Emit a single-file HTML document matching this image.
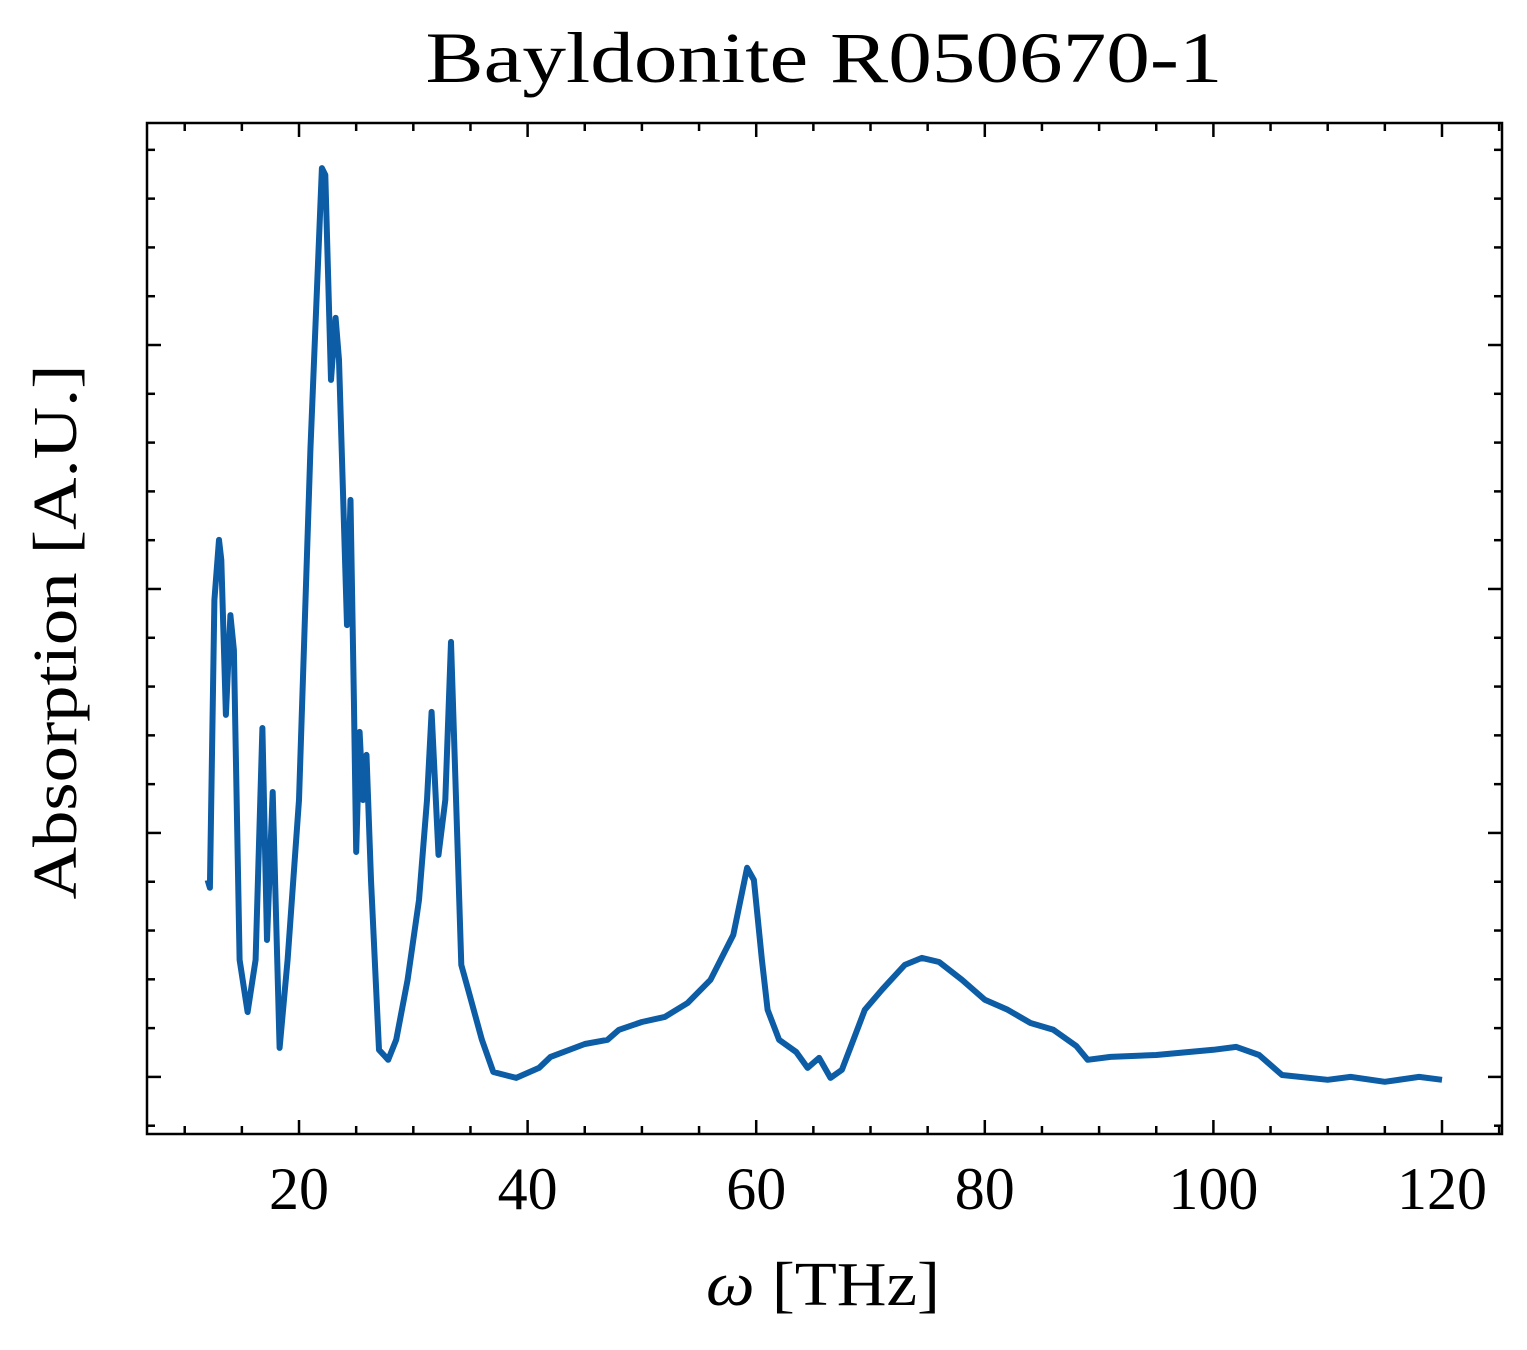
<!DOCTYPE html>
<html><head><meta charset="utf-8"><style>
body{margin:0;background:#fff;}
svg text{font-family:"Liberation Serif","DejaVu Serif",serif;fill:#000;}
</style></head><body>
<svg id="chart" width="1527" height="1345" viewBox="0 0 1527 1345">
<text x="824" y="82" text-anchor="middle" font-size="72" textLength="797" lengthAdjust="spacingAndGlyphs">Bayldonite R050670-1</text>
<g id="ticks"></g>
<path id="series" fill="none" stroke="#0C5DA5" stroke-width="6" stroke-linejoin="round"></path>
<rect x="147" y="123" width="1355" height="1011" fill="none" stroke="#000" stroke-width="2.5"/>
<text x="823" y="1305" text-anchor="middle" font-size="62" textLength="234" lengthAdjust="spacingAndGlyphs"><tspan font-style="italic">ω</tspan> [THz]</text>
<text transform="translate(76,632) rotate(-90)" text-anchor="middle" font-size="62" textLength="535" lengthAdjust="spacingAndGlyphs">Absorption [A.U.]</text>
</svg>
<script>
const freqs=[12.0,12.2,12.6,13.0,13.2,13.6,14.0,14.3,14.8,15.5,16.2,16.8,17.2,17.7,18.3,19.0,20.0,21.0,22.0,22.3,22.8,23.2,23.5,24.2,24.5,24.8,25.0,25.3,25.6,25.9,26.3,27.0,27.8,28.5,29.5,30.5,31.2,31.6,32.2,32.8,33.3,33.8,34.2,34.8,36.0,37.0,39.0,41.0,42.0,45.0,47.0,48.0,50.0,52.0,54.0,56.0,58.0,59.2,59.8,60.5,61.0,62.0,63.5,64.5,65.5,66.5,67.5,68.5,69.5,71.0,73.0,74.5,76.0,78.0,80.0,82.0,84.0,86.0,88.0,89.0,91.0,95.0,100.0,102.0,104.0,106.0,110.0,112.0,115.0,118.0,120.0];
const absorption=[0.807,0.775,1.955,2.201,2.119,1.484,1.893,1.750,0.480,0.266,0.480,1.430,0.561,1.168,0.119,0.480,1.135,2.570,3.725,3.697,2.857,3.111,2.939,1.852,2.365,1.545,0.922,1.414,1.135,1.320,0.807,0.111,0.070,0.152,0.398,0.725,1.135,1.496,0.910,1.135,1.783,1.053,0.459,0.357,0.152,0.020,-0.004,0.037,0.082,0.135,0.152,0.193,0.225,0.246,0.303,0.398,0.582,0.857,0.807,0.480,0.275,0.152,0.102,0.037,0.078,-0.004,0.029,0.152,0.275,0.357,0.459,0.488,0.471,0.398,0.316,0.275,0.221,0.193,0.127,0.070,0.082,0.090,0.111,0.123,0.090,0.008,-0.012,0,-0.020,0,-0.012];
const xTickLabels=[20,40,60,80,100,120];
const yMajorTicks=[0,1,2,3];
const L=147,R=1502,T=123,B=1134;
const xMin=6.7,xMax=125.25,yMin=-0.234,yMax=3.91;
const sx=v=>L+(v-xMin)/(xMax-xMin)*(R-L);
const sy=v=>B-(v-yMin)/(yMax-yMin)*(B-T);
const NS="http://www.w3.org/2000/svg";
let d="";
freqs.forEach((f,i)=>{d+=(i?"L":"M")+sx(f).toFixed(1)+","+sy(absorption[i]).toFixed(1);});
document.getElementById("series").setAttribute("d",d);
const g=document.getElementById("ticks");
function line(x1,y1,x2,y2,name){const l=document.createElementNS(NS,"line");
l.setAttribute("x1",x1);l.setAttribute("y1",y1);l.setAttribute("x2",x2);l.setAttribute("y2",y2);
l.setAttribute("stroke","#000");l.setAttribute("stroke-width","2.5");


g.appendChild(l);}
for(let v=10;v<=125;v+=5){const x=sx(v);const major=v%20===0;const len=major?14:8;
line(x,B,x,B-len,major?"x-major-tick":"x-minor-tick");line(x,T,x,T+len,major?"x-major-tick-top":"x-minor-tick-top");}
xTickLabels.forEach(v=>{const t=document.createElementNS(NS,"text");
t.setAttribute("x",sx(v));t.setAttribute("y",B+75);t.setAttribute("text-anchor","middle");t.setAttribute("font-size","60");
t.textContent=v;


g.appendChild(t);});
for(let k=-1;k<=19;k++){const v=k*0.2;if(v<yMin||v>yMax)continue;const y=sy(v);const major=k%5===0;const len=major?14:8;
line(L,y,L+len,y,major?"y-major-tick":"y-minor-tick");line(R,y,R-len,y,major?"y-major-tick-right":"y-minor-tick-right");}
</script>
</body></html>
